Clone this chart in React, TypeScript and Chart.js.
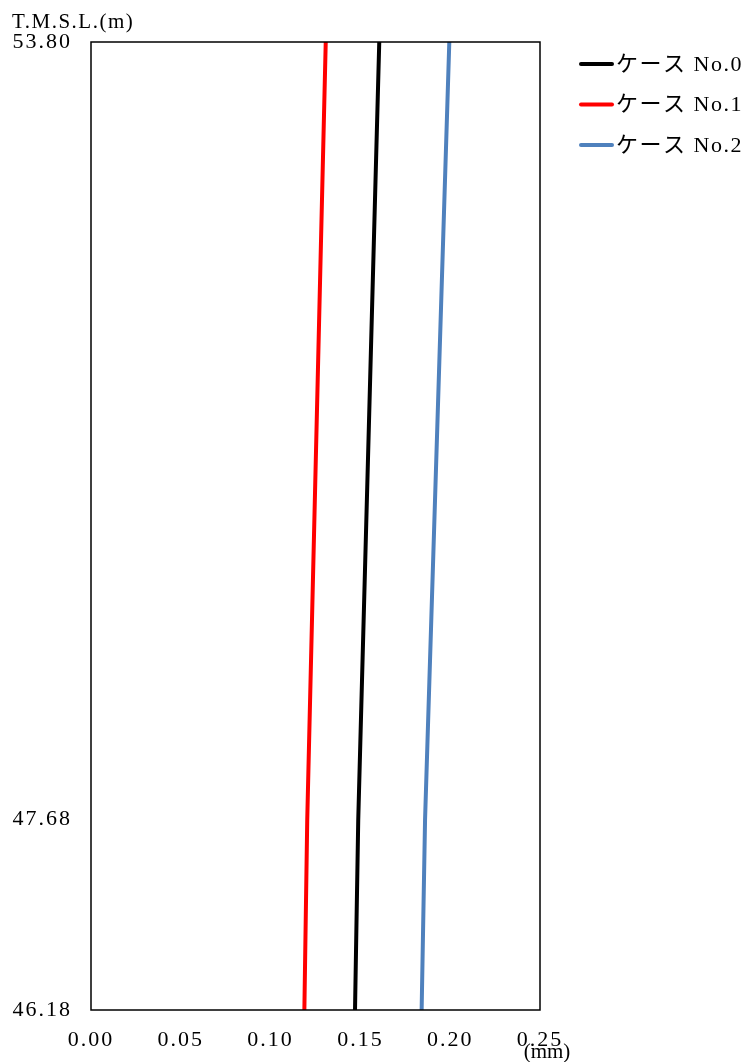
import React, { useEffect, useRef } from "react";
import { Chart, registerables } from "chart.js";

Chart.register(...registerables);

const elevations = [46.18, 47.68, 53.8];
const case0 = [0.147, 0.1488, 0.1605];
const case1 = [0.1188, 0.1204, 0.1307];
const case2 = [0.1841, 0.186, 0.1995];
const seriesLabels = ["ケース No.0", "ケース No.1", "ケース No.2"];
const seriesColors = ["#000000", "#FF0000", "#4F81BD"];
const yTickValues = [46.18, 47.68, 53.8];
const xTickValues = [0, 0.05, 0.1, 0.15, 0.2, 0.25];
const yTitle = "T.M.S.L.(m)";
const xTitle = "(mm)";

const FONT = '"Liberation Serif", "Noto Sans CJK JP", serif';

export default function App() {
  const ref = useRef<HTMLCanvasElement | null>(null);
  useEffect(() => {
    document.body.style.margin = "0";
    const canvas = ref.current!;
    const series = [case0, case1, case2];
    const decor = {
      id: "decor",
      beforeDraw(chart: any) {
        (chart.ctx as any).letterSpacing = "2px";
      },
      afterDraw(chart: any) {
        const { ctx, chartArea } = chart;
        ctx.save();
        ctx.strokeStyle = "#000";
        ctx.lineWidth = 1.5;
        ctx.strokeRect(chartArea.left, chartArea.top, chartArea.right - chartArea.left, chartArea.bottom - chartArea.top);
        ctx.fillStyle = "#000";
        ctx.font = "21px " + FONT;
        ctx.textBaseline = "middle";
        ctx.textAlign = "left";
        ctx.letterSpacing = "1.5px";
        ctx.fillText(yTitle, 12, 22);
        ctx.textAlign = "center";
        ctx.letterSpacing = "0px";
        ctx.fillText(xTitle, chartArea.right + 7, chartArea.bottom + 42);
        ctx.font = "22px " + FONT;
        ctx.letterSpacing = "1.5px";
        chart.data.datasets.forEach((ds: any, i: number) => {
          const y = 64 + i * 40.5;
          ctx.strokeStyle = ds.borderColor;
          ctx.lineWidth = 4;
          ctx.lineCap = "round";
          ctx.beginPath();
          ctx.moveTo(chartArea.right + 41, y);
          ctx.lineTo(chartArea.right + 72, y);
          ctx.stroke();
          ctx.textAlign = "left";
          ctx.fillStyle = "#000";
          ctx.fillText(ds.label, chartArea.right + 76, y + 1);
        });
        ctx.restore();
      },
    };
    const chart = new Chart(canvas, {
      type: "scatter",
      data: {
        datasets: series.map((vals, i) => ({
          label: seriesLabels[i],
          data: vals.map((v, j) => ({ x: v, y: elevations[j] })),
          showLine: true,
          borderColor: seriesColors[i],
          backgroundColor: seriesColors[i],
          borderWidth: 4,
          pointRadius: 0,
        })),
      },
      options: {
        animation: false,
        responsive: false,
        layout: { padding: { top: 42, right: 207, left: 0, bottom: 0 } },
        plugins: { legend: { display: false }, tooltip: { enabled: false } },
        scales: {
          x: {
            type: "linear",
            min: 0,
            max: 0.25,
            grid: { display: false, drawTicks: false },
            border: { display: false },
            afterBuildTicks: (s: any) => {
              s.ticks = xTickValues.map((v) => ({ value: v }));
            },
            afterFit: (s: any) => {
              s.height = 52;
            },
            ticks: {
              color: "#000",
              font: { family: FONT, size: 22 },
              padding: 17,
              maxRotation: 0,
              callback: (v: any) => Number(v).toFixed(2),
            },
          },
          y: {
            type: "linear",
            min: 46.18,
            max: 53.8,
            grid: { display: false, drawTicks: false },
            border: { display: false },
            afterBuildTicks: (s: any) => {
              s.ticks = yTickValues.map((v) => ({ value: v }));
            },
            afterFit: (s: any) => {
              s.width = 91;
            },
            ticks: {
              color: "#000",
              font: { family: FONT, size: 22 },
              padding: 19,
              callback: (v: any) => Number(v).toFixed(2),
            },
          },
        },
      },
      plugins: [decor],
    });
    return () => chart.destroy();
  }, []);
  return <canvas ref={ref} width={747} height={1062} style={{ display: "block" }} />;
}
